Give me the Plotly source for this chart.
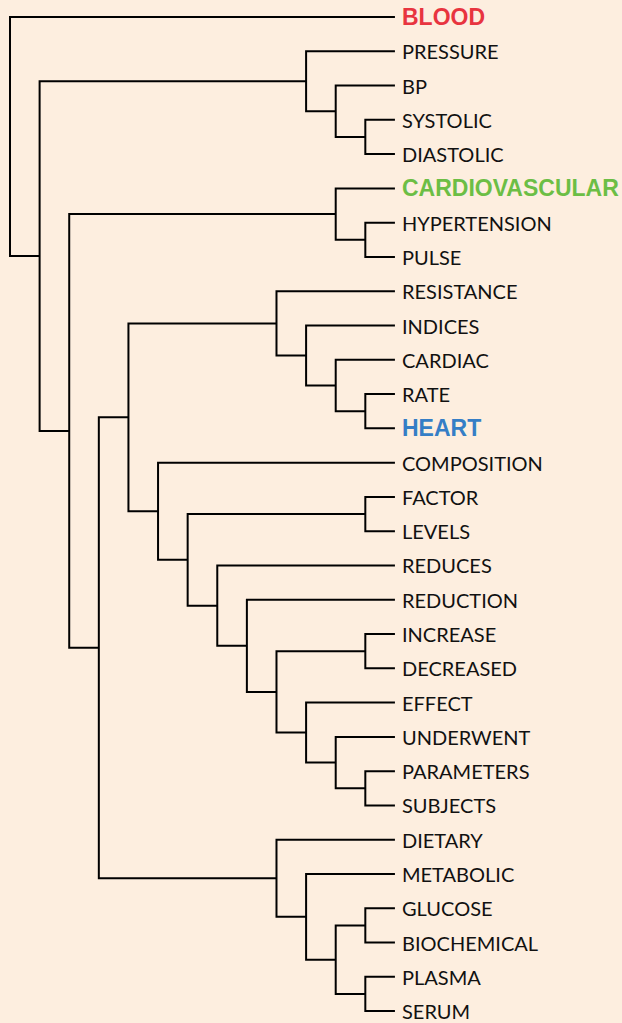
import plotly.graph_objects as go

# ---- data ----
leaves = ["BLOOD", "PRESSURE", "BP", "SYSTOLIC", "DIASTOLIC", "CARDIOVASCULAR",
          "HYPERTENSION", "PULSE", "RESISTANCE", "INDICES", "CARDIAC", "RATE",
          "HEART", "COMPOSITION", "FACTOR", "LEVELS", "REDUCES", "REDUCTION",
          "INCREASE", "DECREASED", "EFFECT", "UNDERWENT", "PARAMETERS", "SUBJECTS",
          "DIETARY", "METABOLIC", "GLUCOSE", "BIOCHEMICAL", "PLASMA", "SERUM"]

# linkage: internal node k = 30 + index, joining merge_left[k] and merge_right[k] at merge_height[k]
merge_left = [3, 2, 1, 6, 5, 11, 10, 9, 8, 14, 22, 21, 20, 18, 43, 17, 16, 39, 13, 38,
              26, 28, 50, 25, 24, 49, 34, 32, 0]
merge_right = [4, 30, 31, 7, 33, 12, 35, 36, 37, 15, 23, 40, 41, 19, 42, 44, 45, 46, 47, 48,
               27, 29, 51, 52, 53, 54, 55, 56, 57]
merge_height = [1, 2, 3, 1, 2, 1, 2, 3, 4, 1, 1, 2, 3, 1, 4, 5, 6, 7, 8, 9,
                1, 1, 2, 3, 4, 10, 11, 12, 13]

highlight = {"BLOOD": "#E8343F", "CARDIOVASCULAR": "#6CBE45", "HEART": "#357EC6"}

BG = "#FDEEDF"

# ---- layout of tree ----
n = len(leaves)
ypos = {i: i for i in range(n)}
hpos = {i: 0 for i in range(n)}
xs, ys = [], []
for k, (a, b, h) in enumerate(zip(merge_left, merge_right, merge_height)):
    node = n + k
    ya, yb = ypos[a], ypos[b]
    xs += [hpos[a], h, h, hpos[b], None]
    ys += [ya, ya, yb, yb, None]
    ypos[node] = (ya + yb) / 2
    hpos[node] = h

fig = go.Figure()
fig.add_trace(go.Scatter(x=xs, y=ys, mode="lines",
                         line=dict(color="#000000", width=2),
                         hoverinfo="skip", showlegend=False))

for i, name in enumerate(leaves):
    if name in highlight:
        font = dict(family="Liberation Sans, Arial, sans-serif", size=23,
                    color=highlight[name], weight="bold")
    else:
        font = dict(family="Lato, sans-serif", size=20, color="#111111")
    fig.add_annotation(x=0, y=i, text=name, showarrow=False, xanchor="left",
                       yanchor="middle", xshift=5, font=font)

px_per_h = 29.6
px_per_leaf = 34.28
fig.update_layout(
    width=622, height=1023,
    margin=dict(l=0, r=0, t=0, b=0),
    paper_bgcolor=BG, plot_bgcolor=BG,
    xaxis=dict(range=[13 + 10 / px_per_h, -(622 - 395) / px_per_h],
               visible=False, showgrid=False, zeroline=False),
    yaxis=dict(range=[(1023 - 17) / px_per_leaf, -17 / px_per_leaf],
               visible=False, showgrid=False, zeroline=False),
)

fig.write_html(
    "out.html",
    config={"displayModeBar": False},
    post_script="document.body.style.margin='0';document.body.style.background='" + BG + "';"
                "document.body.style.overflow='hidden';",
)
